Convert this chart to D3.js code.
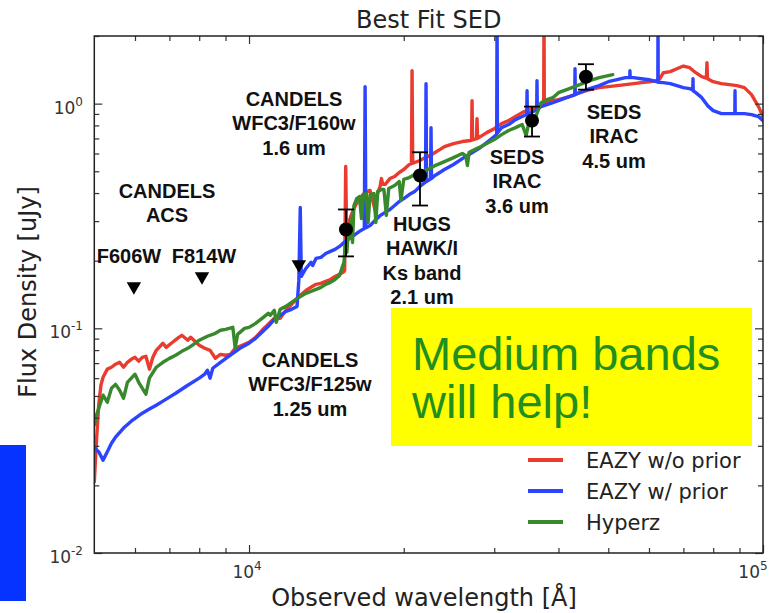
<!DOCTYPE html>
<html>
<head>
<meta charset="utf-8">
<script src="https://cdn.jsdelivr.net/npm/d3@7"></script>
<style>
  body { margin: 0; background: #fff; }
  svg { display: block; }
</style>
</head>
<body>
<svg id="chart" width="780" height="613"></svg>
<script>
// ---- Best-fit SED templates: [observed wavelength (Å), flux density (µJy)] ----
const eazyNoPrior = [
  [5000,0.0207],[5050,0.0318],[5100,0.0455],[5150,0.0558],[5200,0.0606],[5300,0.0658],
  [5400,0.0671],[5500,0.0692],[5600,0.0706],[5700,0.0671],[5800,0.0706],[5900,0.0728],
  [6000,0.0743],[6100,0.0714],[6200,0.0743],[6300,0.0751],[6400,0.0658],[6500,0.0743],
  [6600,0.0798],[6800,0.0858],[6900,0.0823],[7100,0.0867],[7300,0.0912],[7400,0.0931],
  [7600,0.0885],[7700,0.0912],[8000,0.0840],[8200,0.0815],[8400,0.0798],[8600,0.0736],
  [8800,0.0766],[9000,0.0759],[9200,0.0766],[9400,0.0815],[9800,0.0849],[10000,0.0867],
  [10300,0.0912],[10600,0.0980],[10900,0.1042],[11200,0.1108],[11500,0.1108],[11800,0.1202],
  [12100,0.128],[12400,0.136],[12900,0.1475],[13200,0.1522],[13500,0.157],[13800,0.1585],
  [14100,0.1618],[14400,0.165],[14700,0.170],[15000,0.1738],[15300,0.179],[15350,0.181],
  [15420,0.525],[15480,0.273],[15800,0.318],[16100,0.352],[16400,0.378],[16800,0.402],
  [17200,0.411],[17600,0.3345],[17800,0.402],[18000,0.43],[18100,0.464],[18200,0.437],
  [18400,0.437],[18800,0.464],[19200,0.474],[19600,0.494],[20000,0.509],[20500,0.536],
  [20700,0.540],[20760,1.402],[20820,0.543],[21000,0.547],[21500,0.558],[22000,0.575],
  [22500,0.587],[23000,0.606],[23500,0.624],[24000,0.644],[25000,0.664],[26000,0.678],
  [27000,0.685],[27100,0.688],[27160,1.03],[27220,0.690],[27700,0.698],[27770,0.858],
  [27840,0.700],[28000,0.706],[29000,0.743],[30000,0.774],[31000,0.815],[32000,0.840],
  [33000,0.876],[34000,0.912],[35000,0.940],[36000,0.960],[37000,0.990],[37440,1.0],
  [37490,2.5],[37540,1.01],[38000,1.021],[39000,1.031],[40000,1.042],[42000,1.074],
  [44000,1.119],[46000,1.154],[48000,1.178],[50000,1.19],[52000,1.202],[54000,1.215],
  [56000,1.227],[58000,1.24],[60000,1.252],[62000,1.265],[63000,1.291],[64000,1.373],
  [66000,1.388],[68000,1.43],[70000,1.47],[72000,1.445],[74000,1.373],[76000,1.318],
  [77600,1.30],[77800,1.521],[78000,1.291],[80000,1.252],[83000,1.227],[86000,1.215],
  [89000,1.202],[92000,1.178],[95000,1.097],[98000,0.97],[100000,0.876]
];

const eazyWithPrior = [
  [5000,0.0293],[5100,0.0282],[5200,0.0259],[5300,0.0282],[5400,0.0308],[5500,0.0328],
  [5700,0.0360],[5900,0.0386],[6200,0.0419],[6400,0.0437],[6600,0.0455],[6800,0.0474],
  [7000,0.0494],[7200,0.0514],[7600,0.0558],[8000,0.0600],[8200,0.0625],[8300,0.0651],
  [8400,0.0600],[8500,0.0664],[8800,0.0706],[9200,0.0759],[9600,0.0815],[10000,0.0858],
  [10300,0.0903],[10600,0.0960],[10900,0.1020],[11200,0.1096],[11500,0.1143],[11800,0.1190],
  [12100,0.1215],[12400,0.1252],[12500,0.1634],[12580,0.345],[12640,0.1703],[12900,0.1846],
  [13200,0.1966],[13300,0.1905],[13500,0.2047],[13800,0.2068],[14100,0.2154],[14400,0.22],
  [14700,0.2245],[15000,0.2314],[15300,0.2411],[15800,0.254],[16100,0.2618],[16400,0.27],
  [16760,0.278],[16820,1.19],[16880,0.28],[17200,0.287],[17600,0.3025],[18000,0.318],
  [18400,0.328],[18800,0.338],[19200,0.352],[19600,0.367],[20000,0.378],[20500,0.394],
  [21000,0.406],[21500,0.428],[22000,0.446],[22050,0.448],[22100,1.227],[22150,0.450],
  [22500,0.46],[22550,0.462],[22600,0.782],[22650,0.464],[23000,0.479],[23500,0.494],
  [24000,0.509],[25000,0.536],[26000,0.569],[27000,0.60],[28000,0.631],[29000,0.671],
  [30000,0.714],[30330,0.73],[30380,2.5],[30430,0.74],[31000,0.782],[32000,0.807],
  [33000,0.849],[34000,0.876],[34700,0.895],[34750,1.142],[34800,0.898],[35000,0.903],
  [36000,0.931],[36280,0.94],[36330,1.265],[36380,0.945],[37000,0.970],[38000,0.99],
  [39000,1.01],[40000,1.031],[42000,1.074],[43030,1.095],[43080,1.43],[43130,1.10],
  [44000,1.119],[46000,1.166],[48000,1.202],[50000,1.252],[52000,1.278],[54000,1.305],
  [55050,1.305],[55100,1.40],[55150,1.305],[56000,1.305],[58000,1.291],[60000,1.278],
  [62000,1.252],[62430,1.248],[62480,2.5],[62530,1.245],[64000,1.24],[66000,1.227],
  [68000,1.202],[70000,1.178],[72000,1.166],[73000,1.15],[73080,1.291],[73160,1.14],
  [74000,1.119],[76000,1.063],[78000,0.98],[80000,0.931],[83000,0.903],[86000,0.903],
  [88150,0.903],[88220,1.142],[88290,0.903],[89000,0.903],[92000,0.903],[95000,0.894],
  [98000,0.876],[100000,0.840]
];

const hyperz = [
  [5000,0.0371],[5050,0.0411],[5200,0.0504],[5300,0.0469],[5400,0.0541],[5500,0.0563],
  [5600,0.0530],[5700,0.0489],[5800,0.0575],[6000,0.0625],[6100,0.0575],[6300,0.0509],
  [6400,0.0600],[6600,0.0671],[6800,0.0706],[7000,0.0735],[7200,0.0759],[7400,0.0790],
  [7600,0.0815],[7800,0.0849],[8000,0.0885],[8300,0.0922],[8600,0.0950],[8800,0.0980],
  [9000,0.0990],[9300,0.1010],[9400,0.0815],[9500,0.0940],[9800,0.0999],[10000,0.1010],
  [10300,0.1052],[10600,0.1108],[10900,0.1166],[11000,0.1143],[11200,0.1202],[11300,0.1063],
  [11500,0.1215],[11800,0.1252],[12100,0.1305],[12400,0.1356],[12900,0.1431],[13200,0.1460],
  [13500,0.1490],[13800,0.1522],[14100,0.1570],[14400,0.1601],[14700,0.1650],[15000,0.1720],
  [15300,0.1966],[15400,0.2338],[15500,0.2176],[15600,0.2676],[15700,0.2513],[15800,0.3080],
  [15900,0.2411],[16000,0.3520],[16200,0.3780],[16400,0.3860],[16550,0.3080],[16700,0.3940],
  [16900,0.3980],[17050,0.2960],[17200,0.3940],[17500,0.3980],[17650,0.2960],[17800,0.4060],
  [18100,0.4150],[18300,0.4150],[18500,0.3180],[18700,0.4190],[19200,0.4320],[19600,0.4500],
  [19750,0.3710],[20000,0.4600],[20500,0.4690],[21000,0.4840],[21500,0.4940],[22000,0.5040],
  [22500,0.5140],[23000,0.5300],[23500,0.5410],[24000,0.5520],[25000,0.5750],[26000,0.6000],
  [26400,0.5870],[26600,0.5300],[26800,0.6060],[27000,0.6120],[28000,0.6370],[29000,0.6640],
  [30000,0.6920],[31000,0.7280],[32000,0.7590],[33000,0.7820],[34000,0.8070],[34600,0.7210],
  [35000,0.8150],[35500,0.8240],[36000,0.8580],[36500,0.9310],[37000,1.0100],[38000,1.0420],
  [39000,1.0630],[40000,1.1190],[42000,1.1660],[44000,1.2150],[46000,1.2650],[48000,1.3050],
  [50000,1.3320],[51000,1.3460]
];

// Detections: [wavelength (Å), flux (µJy), lower bound, upper bound]
const photometry = [
  [15440, 0.2754, 0.209, 0.338],
  [21510, 0.4786, 0.352, 0.6075],
  [35530, 0.840, 0.7137, 0.970],
  [45240, 1.318, 1.154, 1.498]
];
// Upper limits (non-detections): [wavelength (Å), flux (µJy)]
const upperLimits = [[5970, 0.1537], [8100, 0.1702], [12500, 0.1925]];

const seriesNames = ["EAZY w/o prior", "EAZY w/ prior", "Hyperz"];
const seriesColors = ["#ea3b2e", "#2d44ff", "#37892b"];

const xMajorTicks = [1e4, 1e5];
const xMinorTicks = [6000, 7000, 8000, 9000, 20000, 30000, 40000, 50000, 60000, 70000, 80000, 90000];
const yMajorTicks = [0.01, 0.1, 1];
const yMinorTicks = [0.02,0.03,0.04,0.05,0.06,0.07,0.08,0.09,0.2,0.3,0.4,0.5,0.6,0.7,0.8,0.9,2];
const xTickLabels = [["10","4"], ["10","5"]];
const yTickLabels = [["10","-2"], ["10","-1"], ["10","0"]];

// ---- layout ----
const svg = d3.select("#chart");
const plot = { left: 94.3, right: 763, top: 36, bottom: 553 };

const x = d3.scaleLog().domain([5000, 100000]).range([plot.left, plot.right]);
const y = d3.scaleLog().domain([0.01, 2]).range([plot.bottom, plot.top]);

const axisFont = "'DejaVu Sans', 'Bitstream Vera Sans', sans-serif";
const boldFont = "'Liberation Sans', Arial, Helvetica, sans-serif";

// Left-edge blue tab
svg.append("rect").attr("x", 0).attr("y", 445).attr("width", 26).attr("height", 156)
  .attr("fill", "#0633ff");

// Title
svg.append("text").attr("x", (plot.left + plot.right) / 2).attr("y", 28)
  .attr("text-anchor", "middle").attr("font-family", axisFont).attr("font-size", 24)
  .attr("fill", "#222").text("Best Fit SED");

// Clip region for the spectra
svg.append("defs").append("clipPath").attr("id", "plotClip")
  .append("rect").attr("x", plot.left).attr("y", plot.top)
  .attr("width", plot.right - plot.left).attr("height", plot.bottom - plot.top);

// Spectra
const line = d3.line().x(d => x(d[0])).y(d => y(d[1]));
const curves = svg.append("g").attr("clip-path", "url(#plotClip)");
[eazyNoPrior, eazyWithPrior, hyperz].forEach((s, i) => {
  curves.append("path").datum(s).attr("d", line)
    .attr("fill", "none").attr("stroke", seriesColors[i])
    .attr("stroke-width", 3.4).attr("stroke-linejoin", "round").attr("stroke-linecap", "round");
});

// Photometry with error bars
const phot = svg.append("g");
photometry.forEach(p => {
  const cx = x(p[0]);
  phot.append("line").attr("x1", cx).attr("x2", cx).attr("y1", y(p[2])).attr("y2", y(p[3]))
    .attr("stroke", "#000").attr("stroke-width", 1.8);
  [p[2], p[3]].forEach(v => {
    phot.append("line").attr("x1", cx - 8).attr("x2", cx + 8).attr("y1", y(v)).attr("y2", y(v))
      .attr("stroke", "#000").attr("stroke-width", 1.8);
  });
  phot.append("circle").attr("cx", cx).attr("cy", y(p[1])).attr("r", 7).attr("fill", "#000");
});

// Upper-limit markers (downward triangles)
const tri = d3.symbol().type(d3.symbolTriangle).size(90);
upperLimits.forEach(u => {
  svg.append("path").attr("d", tri())
    .attr("transform", `translate(${x(u[0])},${y(u[1])}) rotate(180)`)
    .attr("fill", "#000");
});

// Axes: ticks point inward on all four sides
function tickAxis(axisFn, scale, values, size, transform) {
  const g = svg.append("g").attr("transform", transform)
    .call(axisFn(scale).tickValues(values).tickSize(size).tickFormat(""));
  g.select(".domain").remove();
  g.selectAll(".tick line").attr("stroke", "#333").attr("stroke-width", 1.2);
  return g;
}
tickAxis(d3.axisBottom, x, xMajorTicks, -8, `translate(0,${plot.bottom})`);
tickAxis(d3.axisBottom, x, xMinorTicks, -5, `translate(0,${plot.bottom})`);
tickAxis(d3.axisTop, x, xMajorTicks, -8, `translate(0,${plot.top})`);
tickAxis(d3.axisTop, x, xMinorTicks, -5, `translate(0,${plot.top})`);
tickAxis(d3.axisLeft, y, yMajorTicks, -8, `translate(${plot.left},0)`);
tickAxis(d3.axisLeft, y, yMinorTicks, -5, `translate(${plot.left},0)`);
tickAxis(d3.axisRight, y, yMajorTicks, -8, `translate(${plot.right},0)`);
tickAxis(d3.axisRight, y, yMinorTicks, -5, `translate(${plot.right},0)`);

// Frame
svg.append("rect").attr("x", plot.left).attr("y", plot.top)
  .attr("width", plot.right - plot.left).attr("height", plot.bottom - plot.top)
  .attr("fill", "none").attr("stroke", "#222").attr("stroke-width", 1.5);

// Tick labels with superscript exponents
function powerLabel(g, px, py, anchor, lab) {
  const t = g.append("text").attr("x", px).attr("y", py).attr("text-anchor", anchor)
    .attr("font-family", axisFont).attr("fill", "#333");
  t.append("tspan").attr("font-size", 17).text(lab[0]);
  t.append("tspan").attr("font-size", 12).attr("dy", -8).text(lab[1]);
}
const tickLabels = svg.append("g");
powerLabel(tickLabels, x(xMajorTicks[0]) - 2, 578, "middle", xTickLabels[0]);
powerLabel(tickLabels, x(xMajorTicks[1]) - 10, 578, "middle", xTickLabels[1]);
yMajorTicks.forEach((v, i) => powerLabel(tickLabels, 83, y(v) + 10, "end", yTickLabels[i]));

// Axis titles
svg.append("text").attr("x", 424).attr("y", 606).attr("text-anchor", "middle")
  .attr("font-family", axisFont).attr("font-size", 24).attr("fill", "#222")
  .text("Observed wavelength [Å]");
svg.append("text").attr("transform", "translate(36,292) rotate(-90)").attr("text-anchor", "middle")
  .attr("font-family", axisFont).attr("font-size", 24).attr("fill", "#222")
  .text("Flux Density [uJy]");

// Filter annotations
const notes = [
  { cx: 167, y0: 198, lines: ["CANDELS", "ACS"] },
  { cx: 129, y0: 263, lines: ["F606W"] },
  { cx: 204, y0: 263, lines: ["F814W"] },
  { cx: 294, y0: 106, lines: ["CANDELS", "WFC3/F160w", "1.6 um"] },
  { cx: 422, y0: 231, lines: ["HUGS", "HAWK/I", "Ks band", "2.1 um"] },
  { cx: 517, y0: 164, lines: ["SEDS", "IRAC", "3.6 um"] },
  { cx: 614, y0: 119, lines: ["SEDS", "IRAC", "4.5 um"] },
  { cx: 310, y0: 367, lines: ["CANDELS", "WFC3/F125w", "1.25 um"] }
];
const noteG = svg.append("g").attr("font-family", boldFont).attr("font-weight", "bold")
  .attr("font-size", 20).attr("fill", "#111").attr("text-anchor", "middle");
notes.forEach(n => n.lines.forEach((s, i) => {
  noteG.append("text").attr("x", n.cx).attr("y", n.y0 + i * 24.3).text(s);
}));

// Call-out box
svg.append("rect").attr("x", 391).attr("y", 308).attr("width", 361).attr("height", 138)
  .attr("fill", "#ffff00");
["Medium bands", "will help!"].forEach((s, i) => {
  svg.append("text").attr("x", 412).attr("y", 370 + i * 48)
    .attr("font-family", boldFont).attr("font-size", 47).attr("fill", "#1f8f1f").text(s);
});

// Legend
const legend = svg.append("g");
seriesNames.forEach((name, i) => {
  const ly = 460 + i * 31;
  legend.append("line").attr("x1", 528).attr("x2", 563).attr("y1", ly).attr("y2", ly)
    .attr("stroke", seriesColors[i]).attr("stroke-width", 4);
  legend.append("text").attr("x", 586).attr("y", ly + 7.5)
    .attr("font-family", axisFont).attr("font-size", 21).attr("fill", "#222").text(name);
});
</script>
</body>
</html>
